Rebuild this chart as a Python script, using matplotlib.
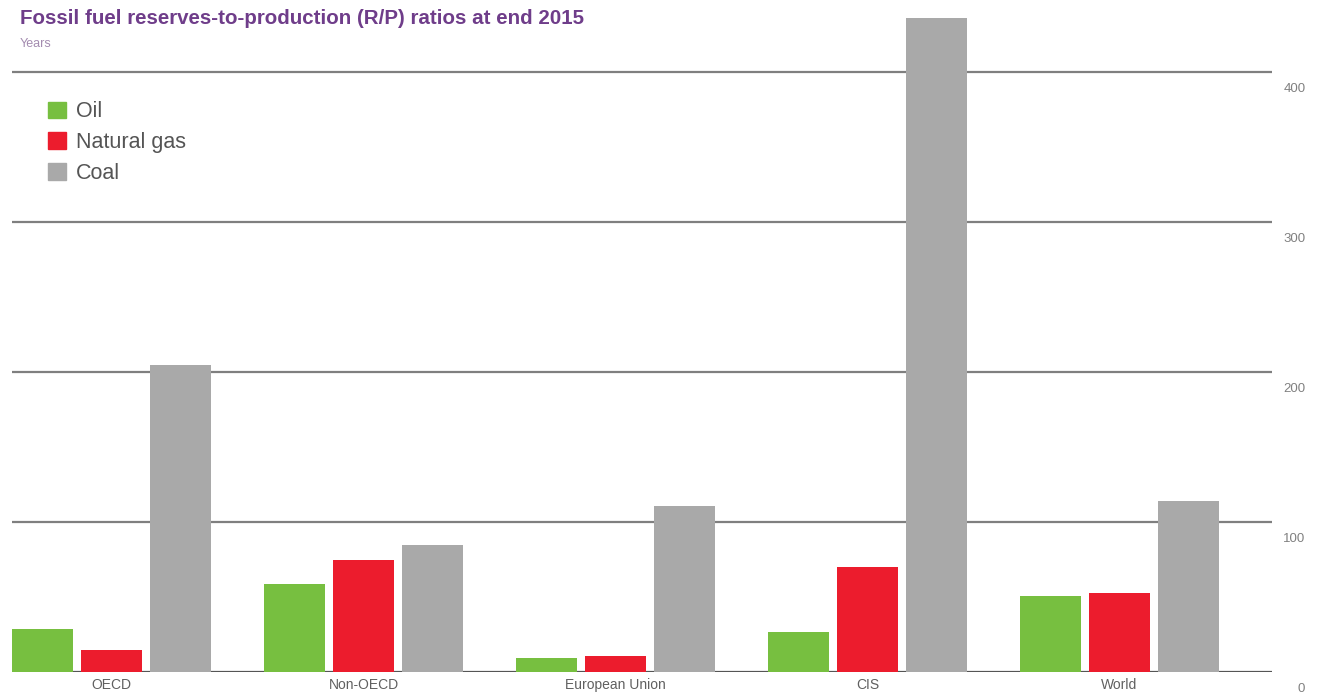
import numpy as np
import matplotlib.pyplot as plt
from matplotlib.patches import Patch

plt.rcParams['font.family'] = ['Liberation Sans', 'DejaVu Sans']

regions = ['OECD', 'Non-OECD', 'European Union', 'CIS', 'World']
oil = [29, 58.5, 9.5, 26.5, 50.7]
gas = [14.4, 75, 11, 70, 52.8]
coal = [205, 85, 111, 436, 114]
yticks = [0, 100, 200, 300, 400]

c_oil = '#77bf40'
c_gas = '#ec1c2d'
c_coal = '#a9a9a9'

fig = plt.figure(figsize=(13.17, 6.97), dpi=100)
ax = fig.add_axes([12/1317, 1 - 672/697, 1260/1317, 660/697])

x = np.arange(len(regions))
w = 0.242
step = 0.274
ax.bar(x - step, oil, w, color=c_oil, zorder=3)
ax.bar(x, gas, w, color=c_gas, zorder=3)
ax.bar(x + step, coal, w, color=c_coal, zorder=3)

ax.set_xlim(-0.395, 4.605)
ax.set_ylim(0, 440)

# horizontal rules and right-hand value labels
for t in yticks:
    ax.axhline(t, color='#555555' if t == 0 else '#7f7f7f', lw=1.6, zorder=2)
    ax.annotate(str(t), xy=(1, t), xycoords=('axes fraction', 'data'),
                xytext=(24, -8), textcoords='offset points',
                ha='right', va='top', fontsize=9.5, color='#808080',
                annotation_clip=False)

ax.set_xticks(x)
ax.set_xticklabels(regions, fontsize=10, color='#606060')
ax.tick_params(axis='x', length=0, pad=4)
ax.set_yticks([])
for s in ax.spines.values():
    s.set_visible(False)

fig.text(20/1317, 1 - 18/697, 'Fossil fuel reserves-to-production (R/P) ratios at end 2015',
         fontsize=14.8, fontweight='bold', color='#6f3d8a', va='center')
fig.text(20/1317, 1 - 44/697, 'Years', fontsize=9, color='#a48cb0', va='center')

handles = [Patch(color=c_oil, label='Oil'),
           Patch(color=c_gas, label='Natural gas'),
           Patch(color=c_coal, label='Coal')]
leg = fig.legend(handles=handles, loc='upper left', bbox_to_anchor=(29/1317, 1 - 82/697),
                 frameon=False, fontsize=15.5, handlelength=0.8, handleheight=0.8,
                 handletextpad=0.5, labelspacing=0.45)
for t in leg.get_texts():
    t.set_color('#555555')

fig.savefig('out.png', dpi=100, facecolor='white')
